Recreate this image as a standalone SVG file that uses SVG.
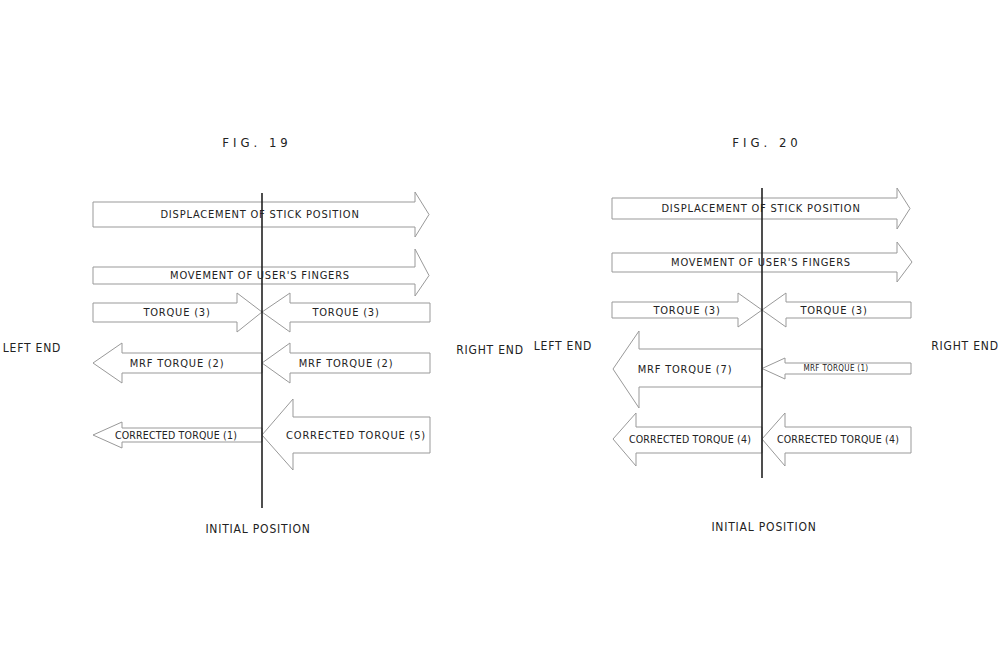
<svg xmlns="http://www.w3.org/2000/svg" width="1000" height="667" viewBox="0 0 1000 667">
<style>
.a{fill:#fff;stroke:#999;stroke-width:1}
.ax{stroke:#222;stroke-width:1.6}
text{font-family:"DejaVu Sans Condensed","DejaVu Sans",sans-serif;font-size:11px;fill:#222;text-anchor:middle;letter-spacing:0.8px}
.t{font-size:13px;letter-spacing:4px}
.s{font-size:8px;letter-spacing:0.3px}
.l{font-size:12px}
.n{font-size:10.5px;letter-spacing:0.2px}
</style>
<rect width="1000" height="667" fill="#fff"/>
<text class="t" x="257" y="147">FIG. 19</text>
<text class="t" x="767" y="147">FIG. 20</text>
<text class="l" x="32" y="352">LEFT END</text>
<text class="l" x="490" y="354">RIGHT END</text>
<text class="l" x="563" y="350">LEFT END</text>
<text class="l" x="965" y="350">RIGHT END</text>
<text class="l" x="258" y="533">INITIAL POSITION</text>
<text class="l" x="764" y="531">INITIAL POSITION</text>
<g id="f19-disp"><path class="a" d="M93 202H415V192L429 214.5L415 237V227H93Z"/><text x="260" y="218">DISPLACEMENT OF STICK POSITION</text></g>
<g id="f19-move"><path class="a" d="M93 267H415V249L429 275.5L415 296V284H93Z"/><text x="260" y="279">MOVEMENT OF USER'S FINGERS</text></g>
<g id="f19-tl"><path class="a" d="M93 303H237V293L262 312L237 332V322H93Z"/><text x="177" y="316">TORQUE (3)</text></g>
<g id="f19-tr"><path class="a" d="M430 303H290V293L262 312L290 332V322H430Z"/><text x="346" y="316">TORQUE (3)</text></g>
<g id="f19-ml"><path class="a" d="M262 353H122V343L93 363L122 383V373H262Z"/><text x="177" y="367">MRF TORQUE (2)</text></g>
<g id="f19-mr"><path class="a" d="M430 353H290V343L262 363L290 383V373H430Z"/><text x="346" y="367">MRF TORQUE (2)</text></g>
<g id="f19-cl"><path class="a" d="M262 428H122V422L93 435L122 448V442H262Z"/><text class="n" x="176" y="439">CORRECTED TORQUE (1)</text></g>
<g id="f19-cr"><path class="a" d="M430 417H293V399L262 435L293 470V453H430Z"/><text x="356" y="439">CORRECTED TORQUE (5)</text></g>
<g id="f20-disp"><path class="a" d="M612 198H897V188L910 208.5L897 229V219H612Z"/><text x="761" y="212">DISPLACEMENT OF STICK POSITION</text></g>
<g id="f20-move"><path class="a" d="M612 253H897V242L912 262L897 282V272H612Z"/><text x="761" y="266">MOVEMENT OF USER'S FINGERS</text></g>
<g id="f20-tl"><path class="a" d="M612 302H738V293L762 310L738 327V318H612Z"/><text x="687" y="314">TORQUE (3)</text></g>
<g id="f20-tr"><path class="a" d="M911 302H786V293L762 310L786 327V318H911Z"/><text x="834" y="314">TORQUE (3)</text></g>
<g id="f20-ml"><path class="a" d="M762 349H639V331L613 369L639 408V387H762Z"/><text x="685" y="373">MRF TORQUE (7)</text></g>
<g id="f20-mr"><path class="a" d="M911 363H785V358L762 368.5L785 379V374H911Z"/><text class="s" x="836" y="371">MRF TORQUE (1)</text></g>
<g id="f20-cl"><path class="a" d="M762 427H636V413L613 439L636 466V453H762Z"/><text class="n" x="690" y="443">CORRECTED TORQUE (4)</text></g>
<g id="f20-cr"><path class="a" d="M911 427H785V413L762 439L785 466V453H911Z"/><text class="n" x="838" y="443">CORRECTED TORQUE (4)</text></g>
<g id="connectors">
<line class="ax" x1="262" y1="193" x2="262" y2="508"/>
<line class="ax" x1="762" y1="188" x2="762" y2="478"/>
</g>
</svg>
